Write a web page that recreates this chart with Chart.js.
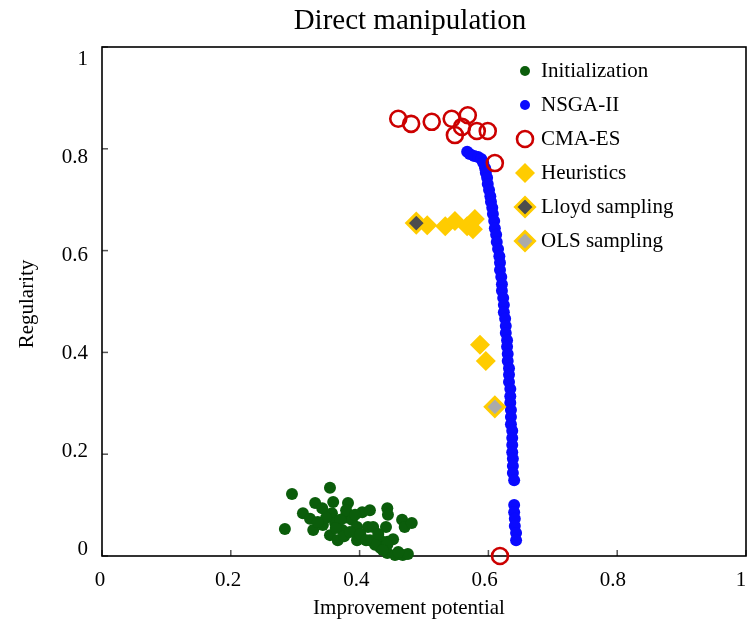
<!DOCTYPE html>
<html>
<head>
<meta charset="utf-8">
<script src="https://cdn.jsdelivr.net/npm/chart.js@4.4.1/dist/chart.umd.min.js"></script>
<style>
  html, body { margin: 0; padding: 0; background: #ffffff; }
  #wrap { width: 749px; height: 631px; }
</style>
</head>
<body>
<div id="wrap"><canvas id="c" width="749" height="631"></canvas></div>
<script>
// ---------------- data ----------------
const chartTitle = 'Direct manipulation';
const xTitle = 'Improvement potential';
const yTitle = 'Regularity';
const seriesNames = ['Initialization', 'NSGA-II', 'CMA-ES', 'Heuristics', 'Lloyd sampling', 'OLS sampling'];
const xTicks = [0, 0.2, 0.4, 0.6, 0.8, 1];
const yTicks = [0, 0.2, 0.4, 0.6, 0.8, 1];
const xTickLabels = ['0', '0.2', '0.4', '0.6', '0.8', '1'];
const yTickLabels = ['0', '0.2', '0.4', '0.6', '0.8', '1'];

const initX = [0.295,0.284,0.354,0.312,0.331,0.323,0.342,0.359,0.357,0.328,0.343,0.362,0.354,0.366,0.373,0.377,0.388,0.382,0.396,0.396,0.404,0.416,0.413,0.421,0.443,0.444,0.441,0.466,0.470,0.481,0.416,0.432,0.443,0.452,0.432,0.443,0.455,0.467,0.475,0.443,0.370,0.363,0.376,0.385,0.348,0.335,0.401,0.424,0.436,0.460,0.379,0.393,0.410,0.429];
const initY = [0.122,0.053,0.134,0.084,0.104,0.073,0.094,0.106,0.084,0.051,0.061,0.065,0.041,0.031,0.051,0.075,0.071,0.104,0.057,0.031,0.086,0.090,0.057,0.057,0.094,0.081,0.057,0.071,0.057,0.065,0.031,0.031,0.028,0.033,0.016,0.006,0.002,0.002,0.004,0.022,0.071,0.055,0.039,0.047,0.075,0.067,0.043,0.022,0.012,0.008,0.090,0.081,0.031,0.043];

const nsgaX = [0.567,0.571,0.578,0.584,0.589,0.592,0.595,0.596,0.598,0.599,0.601,0.603,0.604,0.606,0.607,0.609,0.610,0.612,0.613,0.615,0.617,0.618,0.618,0.620,0.621,0.621,0.623,0.624,0.624,0.626,0.627,0.627,0.629,0.629,0.630,0.630,0.632,0.632,0.632,0.634,0.634,0.634,0.635,0.635,0.635,0.637,0.637,0.637,0.637,0.638,0.638,0.638,0.640,0.640,0.640,0.641,0.641,0.643,0.643];
const nsgaY = [0.794,0.790,0.786,0.784,0.780,0.772,0.762,0.753,0.743,0.731,0.719,0.707,0.696,0.684,0.672,0.658,0.644,0.631,0.617,0.603,0.589,0.576,0.562,0.548,0.534,0.521,0.507,0.493,0.479,0.466,0.452,0.438,0.424,0.411,0.397,0.383,0.369,0.356,0.342,0.328,0.314,0.301,0.287,0.273,0.259,0.246,0.232,0.218,0.204,0.191,0.177,0.163,0.149,0.100,0.086,0.073,0.059,0.045,0.031];

const cmaX = [0.460,0.480,0.512,0.543,0.568,0.559,0.548,0.582,0.599,0.610,0.618];
const cmaY = [0.859,0.849,0.853,0.859,0.866,0.843,0.827,0.835,0.835,0.772,0.000];

const heurX = [0.505,0.533,0.548,0.567,0.579,0.576,0.587,0.596];
const heurY = [0.650,0.648,0.658,0.648,0.662,0.642,0.415,0.383];

const lloydX = [0.488];
const lloydY = [0.654];

const olsX = [0.610];
const olsY = [0.293];

// ---------------- styling ----------------
const SERIF = "'Liberation Serif', 'Times New Roman', serif";
const toPts = (xs, ys) => xs.map((v, i) => ({ x: v, y: ys[i] }));

const styles = [
  { pointStyle: 'circle', pointRadius: 6, backgroundColor: '#0b5d0b', borderColor: '#0b5d0b', pointBorderWidth: 0 },
  { pointStyle: 'circle', pointRadius: 6, backgroundColor: '#0a0aff', borderColor: '#0a0aff', pointBorderWidth: 0 },
  { pointStyle: 'circle', pointRadius: 8, backgroundColor: 'rgba(0,0,0,0)', borderColor: '#cc0000', pointBorderWidth: 2.6 },
  { pointStyle: 'rectRot', pointRadius: 10, backgroundColor: '#ffcc00', borderColor: '#ffcc00', pointBorderWidth: 0 },
  { pointStyle: 'rectRot', pointRadius: 9.5, backgroundColor: '#4d4d4d', borderColor: '#ffcc00', pointBorderWidth: 3 },
  { pointStyle: 'rectRot', pointRadius: 9.5, backgroundColor: '#aaaaaa', borderColor: '#ffcc00', pointBorderWidth: 3 }
];
const seriesData = [
  toPts(initX, initY), toPts(nsgaX, nsgaY), toPts(cmaX, cmaY),
  toPts(heurX, heurY), toPts(lloydX, lloydY), toPts(olsX, olsY)
];

const datasets = seriesNames.map((name, i) => Object.assign({
  label: name,
  data: seriesData[i],
  showLine: false,
  clip: false,
  order: seriesNames.length - i,
  pointHoverRadius: styles[i].pointRadius
}, styles[i]));

// ---------------- decorations plugin ----------------
const deco = {
  id: 'deco',
  beforeDatasetsDraw(chart) {
    const { ctx, chartArea: a, scales: { x, y } } = chart;
    ctx.save();
    ctx.strokeStyle = '#555555';
    ctx.lineWidth = 1.5;
    xTicks.forEach(v => {
      const p = x.getPixelForValue(v);
      ctx.beginPath(); ctx.moveTo(p, a.bottom); ctx.lineTo(p, a.bottom - 6); ctx.stroke();
    });
    yTicks.forEach(v => {
      const p = y.getPixelForValue(v);
      ctx.beginPath(); ctx.moveTo(a.left, p); ctx.lineTo(a.left + 6, p); ctx.stroke();
    });
    ctx.strokeStyle = '#000000';
    ctx.lineWidth = 1.6;
    ctx.strokeRect(a.left, a.top, a.right - a.left, a.bottom - a.top);
    ctx.restore();
  },
  afterDraw(chart) {
    const { ctx, chartArea: a, scales: { x, y } } = chart;
    ctx.save();
    ctx.fillStyle = '#000000';
    ctx.textBaseline = 'middle';
    // title
    ctx.font = '29px ' + SERIF;
    ctx.textAlign = 'center';
    ctx.fillText(chartTitle, 410, 21);
    // x title
    ctx.font = '21px ' + SERIF;
    ctx.fillText(xTitle, 409, 608);
    // y title
    ctx.save();
    ctx.translate(27, 304);
    ctx.rotate(-Math.PI / 2);
    ctx.fillText(yTitle, 0, 0);
    ctx.restore();
    // x tick labels
    const w = a.right - a.left;
    xTicks.forEach((v, i) => {
      const p = x.getPixelForValue(v);
      const lx = a.left - 2 + (p - a.left) * (w - 3) / w;
      ctx.fillText(xTickLabels[i], lx, 580);
    });
    // y tick labels (placed slightly inside the range like the original)
    ctx.textAlign = 'right';
    const h = a.bottom - a.top;
    yTicks.forEach((v, i) => {
      const p = y.getPixelForValue(v);
      const ly = a.top + 12 + (p - a.top) * (h - 19) / h;
      ctx.fillText(yTickLabels[i], a.left - 14, ly);
    });
    // legend
    const lx = 525, ly0 = 71, dy = 34;
    chart.data.datasets.forEach((ds, i) => {
      const yy = ly0 + dy * i;
      ctx.fillStyle = ds.backgroundColor;
      ctx.strokeStyle = ds.borderColor;
      ctx.lineWidth = ds.pointBorderWidth;
      const r = ds.pointStyle === 'circle' && ds.pointRadius < 7 ? 5 : ds.pointRadius;
      Chart.helpers.drawPoint(ctx, { pointStyle: ds.pointStyle, radius: r, borderWidth: ds.pointBorderWidth, rotation: 0 }, lx, yy);
      ctx.fillStyle = '#000000';
      ctx.textAlign = 'left';
      ctx.font = '21px ' + SERIF;
      ctx.fillText(ds.label, 541, yy);
    });
    ctx.restore();
  }
};

new Chart(document.getElementById('c'), {
  type: 'scatter',
  data: { datasets },
  options: {
    responsive: false,
    animation: false,
    devicePixelRatio: 1,
    layout: { autoPadding: false, padding: { left: 0, top: 47, right: 3, bottom: 0 } },
    plugins: {
      legend: { display: false },
      title: { display: false },
      tooltip: { enabled: false }
    },
    scales: {
      x: {
        type: 'linear', min: 0, max: 1,
        afterBuildTicks: s => { s.ticks = xTicks.map(v => ({ value: v })); },
        afterFit: s => { s.height = 75; },
        grid: { display: false, drawTicks: false },
        border: { display: false },
        ticks: { display: false }
      },
      y: {
        type: 'linear', min: 0, max: 1,
        afterBuildTicks: s => { s.ticks = yTicks.map(v => ({ value: v })); },
        afterFit: s => { s.width = 102; },
        grid: { display: false, drawTicks: false },
        border: { display: false },
        ticks: { display: false }
      }
    }
  },
  plugins: [deco]
});
</script>
</body>
</html>
